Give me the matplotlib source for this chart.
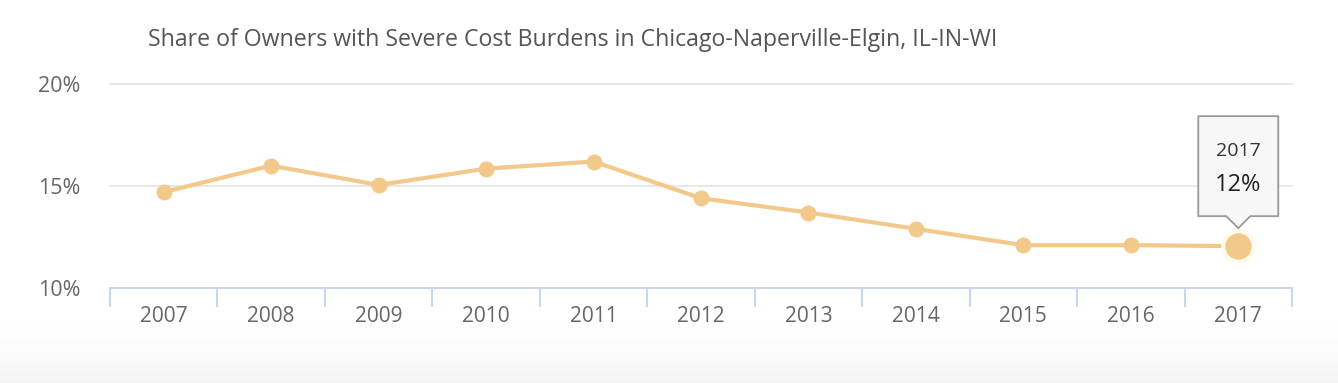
import numpy as np
import matplotlib
matplotlib.use("Agg")
import matplotlib.pyplot as plt
import matplotlib.transforms as mtransforms
from matplotlib.colors import LinearSegmentedColormap
from matplotlib.patches import Polygon

years = ["2007", "2008", "2009", "2010", "2011", "2012",
         "2013", "2014", "2015", "2016", "2017"]
share = [14.7, 16.0, 15.05, 15.85, 16.2, 14.4, 13.7, 12.9, 12.1, 12.1, 12.05]
y_ticks = [10, 15, 20]
y_tick_labels = ["10%", "15%", "20%"]
title = "Share of Owners with Severe Cost Burdens in Chicago-Naperville-Elgin, IL-IN-WI"
tooltip_year = "2017"
tooltip_value = "12%"

plt.rcParams["font.family"] = ["Open Sans", "DejaVu Sans"]

W, H = 1338, 383
fig = plt.figure(figsize=(W / 100, H / 100), dpi=100)

# faint grey gradient along the bottom edge
bg = fig.add_axes([0, 0, 1, 58 / H], zorder=-5)
grad = np.linspace(0, 1, 100).reshape(-1, 1) ** 0.7
bg.imshow(grad, aspect="auto", cmap=LinearSegmentedColormap.from_list("g", ["#f4f4f4", "#ffffff"]),
          extent=[0, 1, 0, 1], origin="lower")
bg.axis("off")

ax = fig.add_axes([110 / W, (H - 288) / H, (1292 - 110) / W, (288 - 84) / H])
x = np.arange(len(years))

ax.set_xlim(-0.5, len(years) - 0.5)
ax.set_ylim(10, 20)

for yt in y_ticks[1:]:
    ax.axhline(yt, color="#e6e6e6", lw=1.3, zorder=1, clip_on=False)

col = "#f3c98b"
ax.plot(x, share, color=col, lw=3, zorder=3, solid_capstyle="round")
ax.plot(x[:-1], share[:-1], "o", color=col, ms=11.5, zorder=4, mec="none")
# hovered point with halo
ax.plot(x[-1], share[-1], "o", color="#fffaea", ms=25, zorder=4, mec="none")
ax.plot(x[-1], share[-1], "o", color=col, ms=19, zorder=5, mec="none")

for s in ["top", "right", "left"]:
    ax.spines[s].set_visible(False)
ax.spines["bottom"].set_color("#ccd6eb")
ax.spines["bottom"].set_linewidth(1.5)

ax.set_xticks(x)
ax.set_xticklabels(years)
ax.set_xticks(np.arange(-0.5, len(years)), minor=True)
ax.tick_params(axis="x", which="major", length=0, pad=13, labelsize=15, labelcolor="#666666")
ax.tick_params(axis="x", which="minor", length=14, width=1.5, color="#ccd6eb")
ax.set_yticks(y_ticks)
ax.set_yticklabels(y_tick_labels)
ax.tick_params(axis="y", length=0, pad=21, labelsize=15.5, labelcolor="#666666")

fig.text(573 / W, (H - 40) / H, title, ha="center", va="center",
         fontsize=16.7, color="#555555")

# tooltip anchored to last point, offsets in pixels
tr = mtransforms.Affine2D() + mtransforms.ScaledTranslation(x[-1], share[-1], ax.transData)
verts = [(-40, 30), (-12, 30), (0, 18), (12, 30), (40, 30), (40, 130), (-40, 130)]
tip = Polygon(verts, closed=True, transform=tr, facecolor="#f7f7f7",
              edgecolor="#999999", lw=1.3, joinstyle="round", zorder=10, clip_on=False)
ax.add_patch(tip)
ax.text(0, 95, tooltip_year, transform=tr, ha="center", va="center",
        fontsize=14, color="#333333", zorder=11)
ax.text(0, 61, tooltip_value, transform=tr, ha="center", va="center",
        fontsize=17, fontweight="medium", color="#222222", zorder=11)

fig.savefig("out.png", dpi=100)
